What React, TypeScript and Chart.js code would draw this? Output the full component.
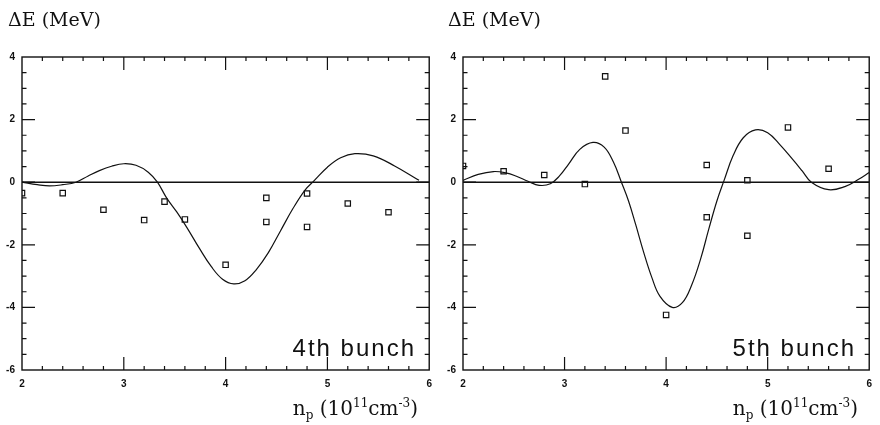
import React, { useEffect, useRef } from "react";
import { Chart, registerables } from "chart.js";
Chart.register(...registerables);

// ---- axis ranges and ticks ----
const X_MIN = 2;
const X_MAX = 6;
const Y_MIN = -6;
const Y_MAX = 4;
const xMajorTicks = [3, 4, 5];
const xMinorTicks = [2.2, 2.4, 2.6, 2.8, 3.2, 3.4, 3.6, 3.8, 4.2, 4.4, 4.6, 4.8, 5.2, 5.4, 5.6, 5.8];
const yMajorTicks = [-4, -2, 0, 2];
const yMinorTicks = [-5.5, -5, -4.5, -3.5, -3, -2.5, -1.5, -1, -0.5, 0.5, 1, 1.5, 2.5, 3, 3.5];

// ---- 4th bunch ----
const bunch4PointX = [2.0, 2.4, 2.8, 3.2, 3.4, 3.6, 4.0, 4.4, 4.4, 4.8, 4.8, 5.2, 5.6];
const bunch4PointY = [-0.35, -0.35, -0.88, -1.21, -0.62, -1.19, -2.64, -0.5, -1.27, -0.36, -1.43, -0.68, -0.96];
const bunch4CurveX = [2.0, 2.15, 2.27, 2.4, 2.53, 2.65, 2.76, 2.88, 3.0, 3.12, 3.24, 3.33, 3.42, 3.52, 3.62, 3.74, 3.86, 3.97, 4.08, 4.19, 4.3, 4.42, 4.54, 4.66, 4.78, 4.87, 5.0, 5.13, 5.27, 5.45, 5.66, 5.9];
const bunch4CurveY = [0, -0.08, -0.12, -0.08, 0, 0.2, 0.37, 0.51, 0.59, 0.54, 0.32, 0, -0.5, -0.95, -1.45, -2.1, -2.7, -3.1, -3.25, -3.15, -2.8, -2.25, -1.55, -0.85, -0.25, 0.05, 0.48, 0.78, 0.91, 0.84, 0.52, 0.06];

// ---- 5th bunch ----
const bunch5PointX = [2.0, 2.4, 2.8, 3.2, 3.4, 3.6, 4.0, 4.4, 4.4, 4.8, 4.8, 5.2, 5.6];
const bunch5PointY = [0.52, 0.35, 0.23, -0.06, 3.38, 1.65, -4.24, 0.55, -1.12, 0.06, -1.71, 1.75, 0.43];
const bunch5CurveX = [2.0, 2.15, 2.3, 2.42, 2.52, 2.64, 2.75, 2.86, 2.95, 3.04, 3.15, 3.28, 3.39, 3.48, 3.56, 3.63, 3.7, 3.78, 3.86, 3.94, 4.06, 4.16, 4.25, 4.34, 4.42, 4.5, 4.57, 4.66, 4.76, 4.88, 5.0, 5.12, 5.24, 5.34, 5.43, 5.6, 5.76, 5.9, 6.0];
const bunch5CurveY = [0.06, 0.25, 0.34, 0.3, 0.2, 0.03, -0.1, -0.05, 0.2, 0.58, 1.05, 1.27, 1.12, 0.65, 0, -0.6, -1.35, -2.25, -3.05, -3.65, -4.0, -3.85, -3.3, -2.45, -1.5, -0.6, 0.05, 0.85, 1.42, 1.67, 1.58, 1.2, 0.75, 0.36, 0, -0.24, -0.14, 0.1, 0.31];

const zeroLineX = [X_MIN, X_MAX];
const zeroLineY = [0, 0];

const zip = (xs: number[], ys: number[]) => xs.map((x, i) => ({ x, y: ys[i] }));

const frameTicksPlugin = {
  id: "frameTicks",
  afterDraw(chart: any) {
    const { ctx, chartArea } = chart;
    const { left, right, top, bottom } = chartArea;
    const xs = chart.scales.x;
    const ys = chart.scales.y;
    ctx.save();
    ctx.strokeStyle = "#111";
    ctx.lineWidth = 1.4;
    ctx.strokeRect(left, top, right - left, bottom - top);
    ctx.lineWidth = 1.2;
    ctx.beginPath();
    const tick = (v: number, len: number, horizontal: boolean) => {
      if (horizontal) {
        const px = xs.getPixelForValue(v);
        ctx.moveTo(px, bottom);
        ctx.lineTo(px, bottom - len);
        ctx.moveTo(px, top);
        ctx.lineTo(px, top + len);
      } else {
        const py = ys.getPixelForValue(v);
        ctx.moveTo(left, py);
        ctx.lineTo(left + len, py);
        ctx.moveTo(right, py);
        ctx.lineTo(right - len, py);
      }
    };
    xMajorTicks.forEach((v) => tick(v, 13, true));
    xMinorTicks.forEach((v) => tick(v, 4, true));
    yMajorTicks.forEach((v) => tick(v, 13, false));
    yMinorTicks.forEach((v) => tick(v, 4.5, false));
    ctx.stroke();
    ctx.restore();
  },
};

function Panel({ pts, curve, yWidth }: { pts: any[]; curve: any[]; yWidth: number }) {
  const ref = useRef<HTMLCanvasElement>(null);
  useEffect(() => {
    if (!ref.current) return;
    const tickFont = { family: "'Liberation Sans', Arial, sans-serif", size: 10, weight: "bold" as const };
    const chart = new Chart(ref.current, {
      type: "scatter",
      data: {
        datasets: [
          {
            data: zip(zeroLineX, zeroLineY),
            showLine: true,
            pointRadius: 0,
            borderColor: "#111",
            borderWidth: 1.4,
          },
          {
            data: curve,
            showLine: true,
            pointRadius: 0,
            borderColor: "#111",
            borderWidth: 1.2,
            tension: 0.4,
          },
          {
            data: pts,
            pointStyle: "rect",
            pointRadius: 3.8,
            pointBorderWidth: 1.2,
            pointBorderColor: "#111",
            pointBackgroundColor: "rgba(255,255,255,0)",
            showLine: false,
          },
        ],
      },
      options: {
        responsive: false,
        animation: false,
        events: [],
        layout: { padding: { top: 57, right: 5, left: 0, bottom: 0 } },
        plugins: { legend: { display: false }, tooltip: { enabled: false } },
        scales: {
          x: {
            type: "linear",
            min: X_MIN,
            max: X_MAX,
            grid: { display: false, drawTicks: false },
            border: { display: false },
            ticks: { stepSize: 1, color: "#111", font: tickFont, padding: 8, maxRotation: 0 },
            afterFit: (s: any) => {
              s.height = 55;
            },
          },
          y: {
            min: Y_MIN,
            max: Y_MAX,
            grid: { display: false, drawTicks: false },
            border: { display: false },
            ticks: { stepSize: 2, color: "#111", font: tickFont, padding: 7 },
            afterFit: (s: any) => {
              s.width = yWidth;
            },
          },
        },
      },
      plugins: [frameTicksPlugin],
    });
    return () => chart.destroy();
  }, []);
  return <canvas ref={ref} width={440} height={425} style={{ display: "block" }} />;
}

const serif = "'DejaVu Serif', 'Liberation Serif', serif";
const sans = "'Liberation Sans', Arial, sans-serif";

function Labels({ name }: { name: string }) {
  return (
    <>
      <div
        style={{
          position: "absolute",
          left: 8,
          top: 7,
          fontFamily: serif,
          fontSize: 19,
          lineHeight: "24px",
          whiteSpace: "pre",
          letterSpacing: 0,
          color: "#111",
        }}
      >
        {"ΔE (MeV)"}
      </div>
      <div
        style={{
          position: "absolute",
          right: 24,
          top: 334,
          fontFamily: sans,
          fontSize: 24,
          lineHeight: "28px",
          letterSpacing: 2,
          whiteSpace: "pre",
          color: "#111",
        }}
      >
        {name}
      </div>
      <div
        style={{
          position: "absolute",
          right: 22,
          top: 390,
          fontFamily: serif,
          fontSize: 20,
          lineHeight: "26px",
          whiteSpace: "pre",
          color: "#111",
        }}
      >
        n<sub style={{ fontSize: 12, verticalAlign: "-4px" }}>p</sub>
        {" (10"}
        <sup style={{ fontSize: 12, verticalAlign: "8px" }}>11</sup>
        {"cm"}
        <sup style={{ fontSize: 12, verticalAlign: "8px" }}>-3</sup>
        {")"}
      </div>
    </>
  );
}

export default function App() {
  useEffect(() => {
    document.body.style.margin = "0";
    document.body.style.background = "#fff";
  }, []);
  return (
    <div style={{ position: "relative", width: 880, height: 425, background: "#fff", overflow: "hidden" }}>
      <div style={{ position: "absolute", left: 0, top: 0, width: 440, height: 425 }}>
        <Panel pts={zip(bunch4PointX, bunch4PointY)} curve={zip(bunch4CurveX, bunch4CurveY)} yWidth={22} />
        <Labels name="4th bunch" />
      </div>
      <div style={{ position: "absolute", left: 440, top: 0, width: 440, height: 425 }}>
        <Panel pts={zip(bunch5PointX, bunch5PointY)} curve={zip(bunch5CurveX, bunch5CurveY)} yWidth={23} />
        <Labels name="5th bunch" />
      </div>
    </div>
  );
}
